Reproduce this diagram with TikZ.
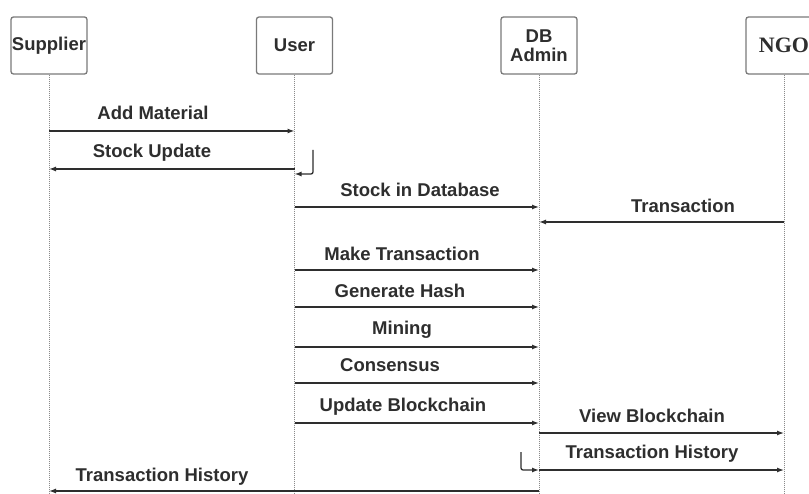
\documentclass[tikz,border=0pt]{standalone}
\usepackage{fontspec}
\setmainfont{Liberation Sans}
\newfontfamily\ngofont{Liberation Serif}
\usetikzlibrary{arrows.meta}
\definecolor{ink}{HTML}{2E2E2E}
\definecolor{boxgray}{HTML}{7A7A7A}
\definecolor{linegray}{HTML}{8A8A8A}
\begin{document}
\begin{tikzpicture}[x=1pt,y=-1pt,
  head/.style={draw=boxgray, line width=1.3pt, rounded corners=2.5pt,
    minimum width=76pt, minimum height=57pt, inner sep=0pt,
    font=\fontsize{18.5}{19}\selectfont\bfseries, text=ink, align=center},
  life/.style={draw=linegray, line width=0.9pt, dash pattern=on 1pt off 1pt},
  msg/.style={draw=ink, line width=1.3pt, -{Latex[length=7pt,width=5pt]}},
  hook/.style={msg, rounded corners=2pt},
  lbl/.style={font=\fontsize{18.5}{20}\selectfont\bfseries, text=ink,
    anchor=base, inner sep=0pt}]
\useasboundingbox (0,0) rectangle (809,494);
\clip (0,0) rectangle (809,494);
\fill[white] (0,0) rectangle (809,494);

% participants
\node[head] (sup) at (49,45.5) {Supplier};
\node[head] (usr) at (294.5,45.5) {User};
\node[head] (dba) at (539,45.5) {DB\\Admin};
\node[head, font=\fontsize{22}{24}\selectfont\ngofont\bfseries] (ngo) at (784,45.5) {NGO};

% lifelines
\coordinate (bot) at (0,500);
\foreach \p in {sup,usr,dba,ngo}
  \draw[life] (\p.south) -- (\p |- bot);

% message rows
\coordinate (r1) at (0,131);
\coordinate (r2) at (0,169);
\coordinate (r2h) at (0,174);
\coordinate (r3) at (0,207);
\coordinate (r4) at (0,222);
\coordinate (r5) at (0,270);
\coordinate (r6) at (0,307);
\coordinate (r7) at (0,347);
\coordinate (r8) at (0,383);
\coordinate (r9) at (0,423);
\coordinate (r10) at (0,433);
\coordinate (r11) at (0,470);
\coordinate (r12) at (0,491);
\coordinate (h1) at (313,150);
\coordinate (h2) at (521,452);

\draw[msg] (sup |- r1) -- (usr |- r1);
\node[lbl] (t1) at (153,120) {Add Material};

\draw[msg] (usr |- r2) -- (sup |- r2);
\draw[hook] (h1) |- (usr |- r2h);
\node[lbl] (t2) at (152,158) {Stock Update};

\draw[msg] (usr |- r3) -- (dba |- r3);
\node[lbl] (t3) at (420,197) {Stock in Database};

\draw[msg] (ngo |- r4) -- (dba |- r4);
\node[lbl] (t4) at (683,213) {Transaction};

\draw[msg] (usr |- r5) -- (dba |- r5);
\node[lbl] (t5) at (402,261) {Make Transaction};

\draw[msg] (usr |- r6) -- (dba |- r6);
\node[lbl] (t6) at (400,298) {Generate Hash};

\draw[msg] (usr |- r7) -- (dba |- r7);
\node[lbl] (t7) at (402,335) {Mining};

\draw[msg] (usr |- r8) -- (dba |- r8);
\node[lbl] (t8) at (390,372) {Consensus};

\draw[msg] (usr |- r9) -- (dba |- r9);
\node[lbl] (t9) at (403,412) {Update Blockchain};

\draw[msg] (dba |- r10) -- (ngo |- r10);
\node[lbl] (t10) at (652,422) {View Blockchain};

\draw[msg] (dba |- r11) -- (ngo |- r11);
\draw[hook] (h2) |- (dba |- r11);
\node[lbl] (t11) at (652,458) {Transaction History};

\draw[msg] (dba |- r12) -- (sup |- r12);
\node[lbl] (t12) at (162,481) {Transaction History};
\end{tikzpicture}
\end{document}
